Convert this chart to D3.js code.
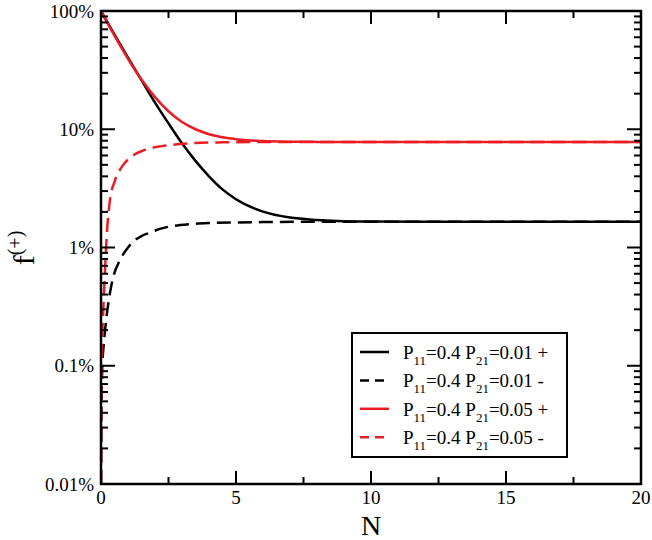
<!DOCTYPE html>
<html>
<head>
<meta charset="utf-8">
<script src="https://cdn.jsdelivr.net/npm/d3@7"></script>
<style>
  body { margin: 0; background: #fff; }
  svg text { font-family: "Liberation Serif", "Times New Roman", serif; fill: #000; }
</style>
</head>
<body>
<script>
// values (N, percent)
const blackPlusN = [0, 0.5, 1, 1.5, 2, 2.5, 3, 3.5, 4, 4.5, 5, 6, 7, 8, 9, 10, 12, 20];
const blackPlus = [100, 63, 40.3, 26, 16.8, 11.2, 7.6, 5.4, 4.0, 3.1, 2.56, 2.01, 1.79, 1.71, 1.67, 1.66, 1.65, 1.65];

const blackMinusN = [0, 0.02, 0.05, 0.1, 0.15, 0.33, 0.46, 0.7, 1.0, 1.14, 1.5, 1.75, 2.25, 2.93, 3.5, 4, 5, 6, 8, 20];
const blackMinus = [0.01, 0.05, 0.1, 0.15, 0.2, 0.41, 0.57, 0.78, 1.0, 1.09, 1.25, 1.32, 1.45, 1.55, 1.59, 1.61, 1.63, 1.64, 1.65, 1.65];

const redPlusN = [0, 0.5, 1, 1.5, 2, 2.5, 3, 3.5, 4, 5, 6, 7, 8, 10, 20];
const redPlus = [100, 61.8, 39.4, 26.3, 18.7, 14.2, 11.5, 10.0, 9.08, 8.24, 7.95, 7.85, 7.82, 7.8, 7.8];

const redMinusN = [0, 0.02, 0.086, 0.15, 0.21, 0.33, 0.52, 0.77, 1.14, 1.63, 2.25, 2.93, 3.5, 4.5, 6, 20];
const redMinus = [0.01, 0.1, 0.3, 0.65, 1.23, 2.5, 3.7, 4.8, 5.9, 6.7, 7.2, 7.5, 7.65, 7.75, 7.8, 7.8];

const xTicks = [0, 5, 10, 15, 20];
const yTicks = [0.01, 0.1, 1, 10, 100];
const yTickLabels = ["0.01%", "0.1%", "1%", "10%", "100%"];

const legendLabels = [
  ["0.4", "0.01", "+"],
  ["0.4", "0.01", "-"],
  ["0.4", "0.05", "+"],
  ["0.4", "0.05", "-"]
];

const RED = "#ec1c24";
const series = [
  { n: blackPlusN, v: blackPlus, color: "#000", dash: null },
  { n: blackMinusN, v: blackMinus, color: "#000", dash: "14,7" },
  { n: redPlusN, v: redPlus, color: RED, dash: null },
  { n: redMinusN, v: redMinus, color: RED, dash: "14,7" }
];

const width = 652, height = 540;
const margin = { left: 101, right: 11, top: 11, bottom: 56 };
const innerW = width - margin.left - margin.right;
const innerH = height - margin.top - margin.bottom;

const svg = d3.select("body").append("svg")
  .attr("width", width)
  .attr("height", height);

const x = d3.scaleLinear().domain([0, 20]).range([margin.left, margin.left + innerW]);
const y = d3.scaleLog().domain([0.01, 100]).range([margin.top + innerH, margin.top]);

svg.append("clipPath").attr("id", "clip")
  .append("rect")
  .attr("x", margin.left).attr("y", margin.top)
  .attr("width", innerW).attr("height", innerH);

// curves
const line = d3.line()
  .x(d => x(d[0]))
  .y(d => y(d[1]))
  .curve(d3.curveMonotoneX);

const plot = svg.append("g").attr("clip-path", "url(#clip)");
series.forEach(s => {
  plot.append("path")
    .datum(s.n.map((n, i) => [n, s.v[i]]))
    .attr("d", line)
    .attr("fill", "none")
    .attr("stroke", s.color)
    .attr("stroke-width", 2.5)
    .attr("stroke-dasharray", s.dash);
});

// axes with inward ticks on all four sides
const minorX = d3.range(0, 20.01, 2.5).filter(v => v % 5 !== 0);
const minorY = [];
[0.01, 0.1, 1, 10].forEach(dec => { for (let k = 2; k <= 9; k++) minorY.push(dec * k); });

const axes = svg.append("g").attr("stroke", "#000").attr("stroke-width", 2);
const yTop = margin.top, yBot = margin.top + innerH;
const xLft = margin.left, xRgt = margin.left + innerW;

xTicks.concat(minorX).forEach(v => {
  const len = xTicks.includes(v) ? 13 : 7;
  axes.append("line").attr("x1", x(v)).attr("x2", x(v)).attr("y1", yBot).attr("y2", yBot - len);
  axes.append("line").attr("x1", x(v)).attr("x2", x(v)).attr("y1", yTop).attr("y2", yTop + len);
});
yTicks.concat(minorY).forEach(v => {
  const len = yTicks.includes(v) ? 14 : 7;
  axes.append("line").attr("x1", xLft).attr("x2", xLft + len).attr("y1", y(v)).attr("y2", y(v));
  axes.append("line").attr("x1", xRgt).attr("x2", xRgt - len).attr("y1", y(v)).attr("y2", y(v));
});

svg.append("rect")
  .attr("x", xLft).attr("y", yTop)
  .attr("width", innerW).attr("height", innerH)
  .attr("fill", "none")
  .attr("stroke", "#000")
  .attr("stroke-width", 2.5);

// tick labels
svg.append("g").selectAll("text")
  .data(xTicks)
  .join("text")
  .attr("x", d => x(d))
  .attr("y", yBot + 20)
  .attr("text-anchor", "middle")
  .attr("font-size", 19)
  .text(d => d);

svg.append("g").selectAll("text")
  .data(yTicks)
  .join("text")
  .attr("x", xLft - 7)
  .attr("y", d => y(d))
  .attr("dy", "0.35em")
  .attr("text-anchor", "end")
  .attr("font-size", 19)
  .text((d, i) => yTickLabels[i]);

// axis titles
svg.append("text")
  .attr("x", x(10))
  .attr("y", 535)
  .attr("text-anchor", "middle")
  .attr("font-size", 28)
  .text("N");

const yTitle = svg.append("text")
  .attr("transform", "translate(34,248) rotate(-90)")
  .attr("text-anchor", "middle")
  .attr("font-size", 30);
yTitle.append("tspan").text("f");
yTitle.append("tspan").attr("font-size", 20).attr("dy", -12).text("(+)");

// legend
const lg = svg.append("g");
lg.append("rect")
  .attr("x", 352).attr("y", 333)
  .attr("width", 215).attr("height", 124)
  .attr("fill", "#fff")
  .attr("stroke", "#000")
  .attr("stroke-width", 2);

legendLabels.forEach((lab, i) => {
  const ry = 352 + i * 28.4;
  lg.append("line")
    .attr("x1", 360).attr("x2", 389)
    .attr("y1", ry).attr("y2", ry)
    .attr("stroke", series[i].color)
    .attr("stroke-width", 2.5)
    .attr("stroke-dasharray", series[i].dash ? "9,6" : null);
  const t = lg.append("text")
    .attr("x", 403)
    .attr("y", ry + 7)
    .attr("font-size", 19);
  t.append("tspan").text("P");
  t.append("tspan").attr("font-size", 13).attr("dy", 6).text("11");
  t.append("tspan").attr("dy", -6).text("=" + lab[0] + " P");
  t.append("tspan").attr("font-size", 13).attr("dy", 6).text("21");
  t.append("tspan").attr("dy", -6).text("=" + lab[1] + " " + lab[2]);
});
</script>
</body>
</html>
